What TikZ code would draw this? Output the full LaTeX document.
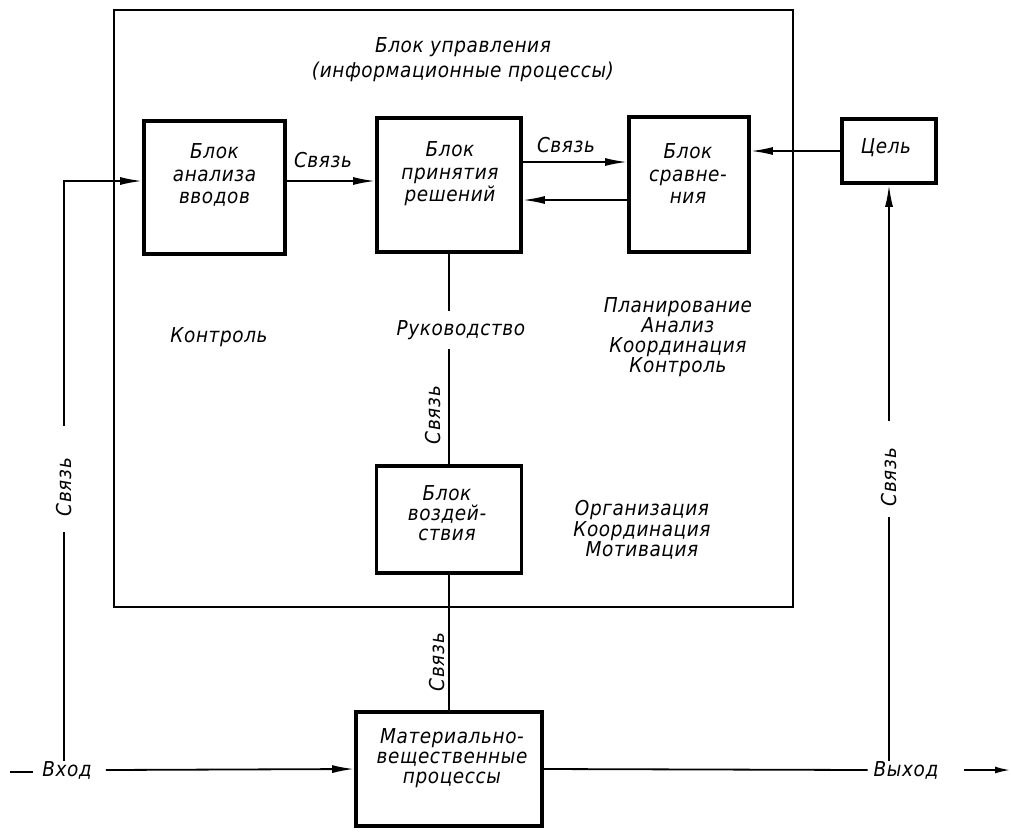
\documentclass[tikz,border=0pt]{standalone}
\usepackage{fontspec}
\setmainfont[LetterSpace=3]{DejaVu Sans Condensed}
\usetikzlibrary{arrows.meta,calc}
\begin{document}
\begin{tikzpicture}[x=1pt,y=-1pt,
  box/.style={draw,line width=3.8pt,inner sep=0pt},
  frm/.style={draw,line width=1.6pt,inner sep=0pt},
  txt/.style={font=\itshape\fontsize{20.5}{22.5}\selectfont,align=center,inner sep=0pt},
  wire/.style={line width=1.8pt},
  arr/.style={wire,-{Latex[length=22pt,width=8pt]}},
  arrsmall/.style={wire,-{Latex[length=15pt,width=7pt]}}]
\useasboundingbox (0,0) rectangle (1011,833);

% rows used by the horizontal connectors
\coordinate (r151) at (0,151);
\coordinate (r162) at (0,162);
\coordinate (r181) at (0,181);
\coordinate (r200) at (0,200);

% control block frame and its title
\node[frm,minimum width=679pt,minimum height=597pt] (fr) at (453.5,308.5) {};
\node[txt,font=\itshape\fontsize{20.5}{25}\selectfont] (ttl) at (463,60)
  {Блок управления\\(информационные процессы)};

% blocks
\node[box,minimum width=141pt,minimum height=133pt] (an) at (214.5,187.5) {};
\node[txt] (antx) at (214.5,175) {Блок\\анализа\\вводов};
\node[box,minimum width=144pt,minimum height=134pt] (pr) at (449,185) {};
\node[txt] (prtx) at (450,174) {Блок\\принятия\\решений};
\node[box,minimum width=120pt,minimum height=135pt] (sr) at (689,184.5) {};
\node[txt] (srtx) at (688,174) {Блок\\сравне-\\ния};
\node[box,minimum width=94pt,minimum height=64pt] (goal) at (889,151) {};
\node[txt] (goaltx) at (886,148) {Цель};
\node[box,minimum width=145pt,minimum height=107pt] (vz) at (449,519.5) {};
\node[txt,font=\itshape\fontsize{20.5}{20}\selectfont] (vztx) at (447,513) {Блок\\воздей-\\ствия};
\node[box,minimum width=186pt,minimum height=114pt] (mat) at (449,769) {};
\node[txt,font=\itshape\fontsize{20.5}{20}\selectfont] (mattx) at (452,758)
  {Материально-\\вещественные\\процессы};

% free labels inside the frame
\node[txt] (kontr) at (219,337) {Контроль};
\node[txt] (ruk) at (461,330) {Руководство};
\node[txt,font=\itshape\fontsize{20.5}{20}\selectfont] (fn1) at (678,337)
  {Планирование\\Анализ\\Координация\\Контроль};
\node[txt,font=\itshape\fontsize{20.5}{18.5}\selectfont] (fn2) at (642,530)
  {Организация\\Координация\\Мотивация};

% link labels
\node[txt] (s1) at (323,160) {Связь};
\node[txt] (s2) at (566,145) {Связь};
\node[txt,rotate=90] (s3) at (433,415) {Связь};
\node[txt,rotate=90] (s4) at (437,662) {Связь};
\node[txt,rotate=90] (s5) at (64,487) {Связь};
\node[txt,rotate=90] (s6) at (889,477) {Связь};

% input and output labels
\node[txt] (vxod) at (67,770) {Вход};
\node[txt] (vyhod) at (906,770) {Выход};
\coordinate (inA) at (10,772);
\coordinate (inB) at (33,772);
\coordinate (outE) at (1010,770);

% connectors between blocks
\draw[arr] (an.east |- r181) -- (pr.west |- r181);
\draw[arr] (pr.east |- r162) -- (sr.west |- r162);
\draw[arr] (sr.west |- r200) -- (pr.east |- r200);
\draw[arr] (goal.west |- r151) -- (sr.east |- r151);
\draw[wire] (pr.south) -- ([yshift=9pt]pr.south |- ruk.north);
\draw[wire] ([yshift=-9pt]pr.south |- ruk.south) -- (vz.north);
\draw[wire] (vz.south) -- (mat.north);

% feedback from the input
\draw[wire] (s5.west |- vxod.north) -- ([yshift=-16pt]s5.west);
\draw[arr] ([yshift=32pt]s5.east) |- (an.west |- r181);

% feedback from the output to the goal
\draw[wire] (goal.south |- vyhod.north) -- ([yshift=-11pt]s6.west);
\draw[arr] ([yshift=27pt]s6.east) -- (goal.south);

% input and output lines
\draw[wire] (inA) -- (inB);
\draw[arr] ([xshift=14pt]vxod.east) -- (mat.west);
\draw[wire] (mat.east) -- ([xshift=-6pt]vyhod.west);
\draw[arrsmall] ([xshift=25pt]vyhod.east) -- (outE);
\end{tikzpicture}
\end{document}
